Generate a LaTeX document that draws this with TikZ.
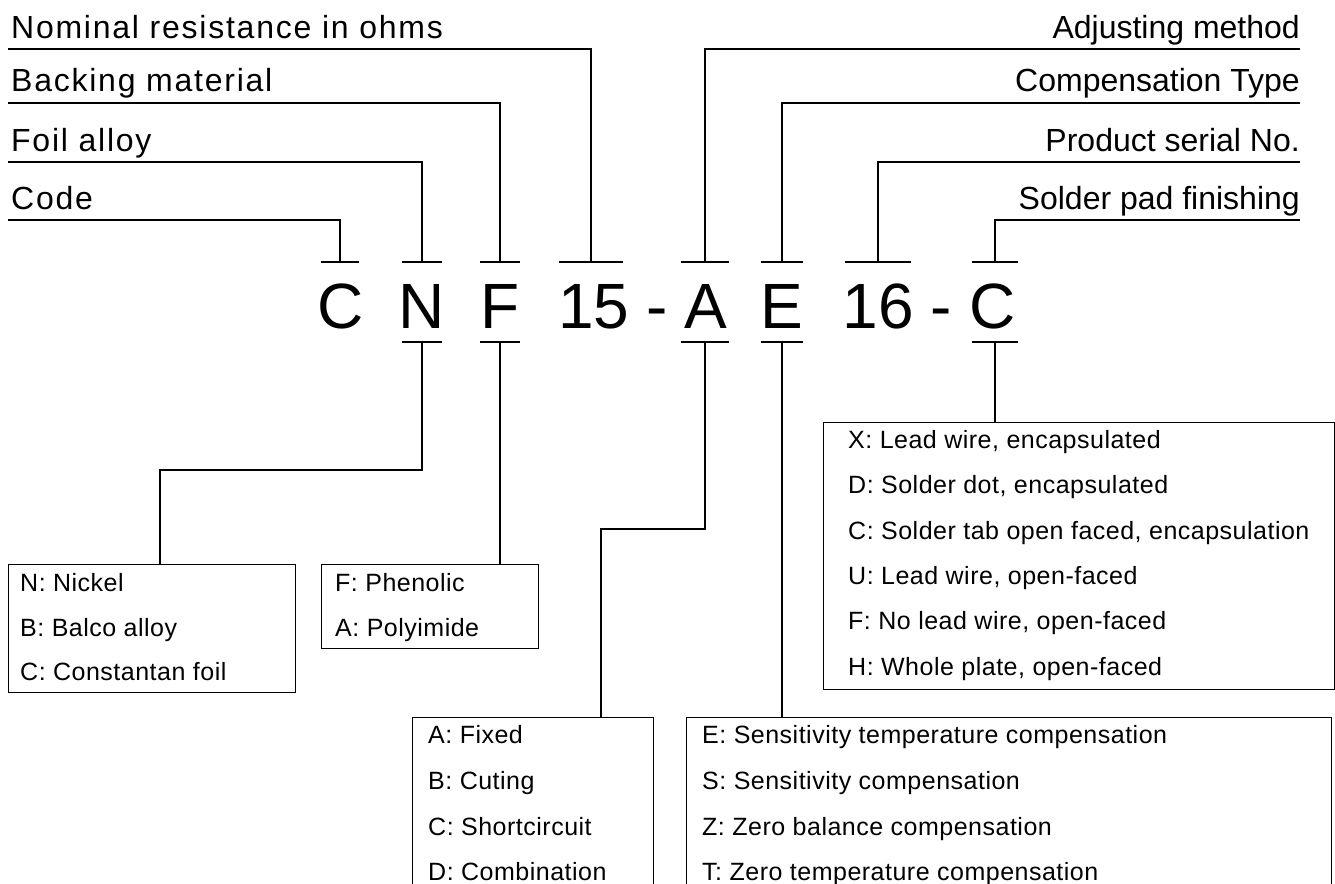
\documentclass[tikz,border=0pt]{standalone}
\usepackage{fontspec}
\setmainfont{Liberation Sans}
\begin{document}
\begin{tikzpicture}[x=1pt,y=-1pt,
  lbl/.style={font=\fontsize{32}{38}\selectfont, inner sep=0pt},
  lbll/.style={font=\fontsize{32}{38}\selectfont\addfontfeature{LetterSpace=5.5}, inner sep=0pt},
  big/.style={font=\fontsize{64}{70}\selectfont, inner sep=0pt, anchor=base},
  item/.style={font=\fontsize{25}{30}\selectfont\addfontfeature{LetterSpace=2}, inner sep=0pt, anchor=base west},
  conn/.style={line width=1.3pt},
  tickbar/.style={line width=2.2pt},
  box/.style={draw, line width=1.3pt, inner sep=0pt, anchor=north west}]
\useasboundingbox (0,0) rectangle (1335,883);
\clip (0,0) rectangle (1335,883);

% code letters
\node[big] (L1) at (341,328) {C};
\node[big] (L2) at (422,328) {N};
\node[big] (L3) at (500,328) {F};
\node[big] (L4) at (594,328) {15};
\node[big] (L5) at (657,328) {-};
\node[big] (L6) at (706,328) {A};
\node[big] (L7) at (782,328) {E};
\node[big] (L8) at (878,328) {16};
\node[big] (L9) at (941,328) {-};
\node[big] (L10) at (993,328) {C};

% upper ticks
\coordinate (u1) at (340,262);
\coordinate (u2) at (422,262);
\coordinate (u3) at (500,262);
\coordinate (u4) at (591,262);
\coordinate (u5) at (705,262);
\coordinate (u6) at (782,262);
\coordinate (u7) at (878,262);
\coordinate (u8) at (995,262);
\draw[tickbar] (u1) +(-19,0) -- +(19,0);
\draw[tickbar] (u2) +(-20,0) -- +(20,0);
\draw[tickbar] (u3) +(-20,0) -- +(20,0);
\draw[tickbar] (u4) +(-32,0) -- +(32,0);
\draw[tickbar] (u5) +(-24,0) -- +(24,0);
\draw[tickbar] (u6) +(-21,0) -- +(21,0);
\draw[tickbar] (u7) +(-33,0) -- +(33,0);
\draw[tickbar] (u8) +(-23,0) -- +(23,0);

% lower ticks
\coordinate (d2) at (422,342);
\coordinate (d3) at (500,342);
\coordinate (d5) at (705,342);
\coordinate (d6) at (782,342);
\coordinate (d8) at (995,342);
\draw[tickbar] (d2) +(-20,0) -- +(20,0);
\draw[tickbar] (d3) +(-20,0) -- +(20,0);
\draw[tickbar] (d5) +(-24,0) -- +(24,0);
\draw[tickbar] (d6) +(-21,0) -- +(21,0);
\draw[tickbar] (d8) +(-23,0) -- +(23,0);

% top-left labels
\node[lbll, anchor=base west] (tNom) at (11,39) {Nominal resistance in ohms};
\node[lbll, anchor=base west] (tBack) at (11,92) {Backing material};
\node[lbll, anchor=base west] (tFoil) at (11,151) {Foil alloy};
\node[lbll, anchor=base west] (tCode) at (11,209) {Code};
\coordinate (sNom) at (8,49);
\coordinate (sBack) at (8,103);
\coordinate (sFoil) at (8,162);
\coordinate (sCode) at (8,220);
\draw[conn] (sNom) -| (u4);
\draw[conn] (sBack) -| (u3);
\draw[conn] (sFoil) -| (u2);
\draw[conn] (sCode) -| (u1);

% top-right labels
\node[lbl, anchor=base east] (tAdj) at (1300,38) {Adjusting method};
\node[lbl, anchor=base east] (tComp) at (1300,92) {Compensation Type};
\node[lbl, anchor=base east] (tProd) at (1300,151) {Product serial No.};
\node[lbl, anchor=base east] (tSold) at (1300,209) {Solder pad finishing};
\coordinate (sAdj) at (1300,49);
\coordinate (sComp) at (1300,103);
\coordinate (sProd) at (1300,162);
\coordinate (sSold) at (1300,220);
\draw[conn] (sAdj) -| (u5);
\draw[conn] (sComp) -| (u6);
\draw[conn] (sProd) -| (u7);
\draw[conn] (sSold) -| (u8);

% boxes
\node[box, minimum width=287, minimum height=128] (boxN) at (8,564) {};
\node[box, minimum width=217, minimum height=84] (boxF) at (321,564) {};
\node[box, minimum width=241, minimum height=240] (boxA) at (412,717) {};
\node[box, minimum width=645, minimum height=240] (boxE) at (686,717) {};
\node[box, minimum width=511, minimum height=267] (boxC) at (823,422) {};

% box connectors
\coordinate (nbend) at (160,470);
\coordinate (abend) at (601,529);
\draw[conn] (d2) |- (nbend) -- (nbend |- boxN.north);
\draw[conn] (d3) -- (d3 |- boxF.north);
\draw[conn] (d5) |- (abend) -- (abend |- boxA.north);
\draw[conn] (d6) -- (d6 |- boxE.north);
\draw[conn] (d8) -- (d8 |- boxC.north);

% box texts
\node[item] (n1) at (20,591) {N: Nickel};
\node[item] (n2) at (20,636) {B: Balco alloy};
\node[item] (n3) at (20,680) {C: Constantan foil};

\node[item] (f1) at (335,591) {F: Phenolic};
\node[item] (f2) at (335,636) {A: Polyimide};

\node[item] (a1) at (428,743) {A: Fixed};
\node[item] (a2) at (428,789) {B: Cuting};
\node[item] (a3) at (428,835) {C: Shortcircuit};
\node[item] (a4) at (428,880) {D: Combination};

\node[item] (e1) at (702,743) {E: Sensitivity temperature compensation};
\node[item] (e2) at (702,789) {S: Sensitivity compensation};
\node[item] (e3) at (702,835) {Z: Zero balance compensation};
\node[item] (e4) at (702,880) {T: Zero temperature compensation};

\node[item] (c1) at (848,448) {X: Lead wire, encapsulated};
\node[item] (c2) at (848,493) {D: Solder dot, encapsulated};
\node[item] (c3) at (848,539) {C: Solder tab open faced, encapsulation};
\node[item] (c4) at (848,584) {U: Lead wire, open-faced};
\node[item] (c5) at (848,629) {F: No lead wire, open-faced};
\node[item] (c6) at (848,675) {H: Whole plate, open-faced};
\end{tikzpicture}
\end{document}
